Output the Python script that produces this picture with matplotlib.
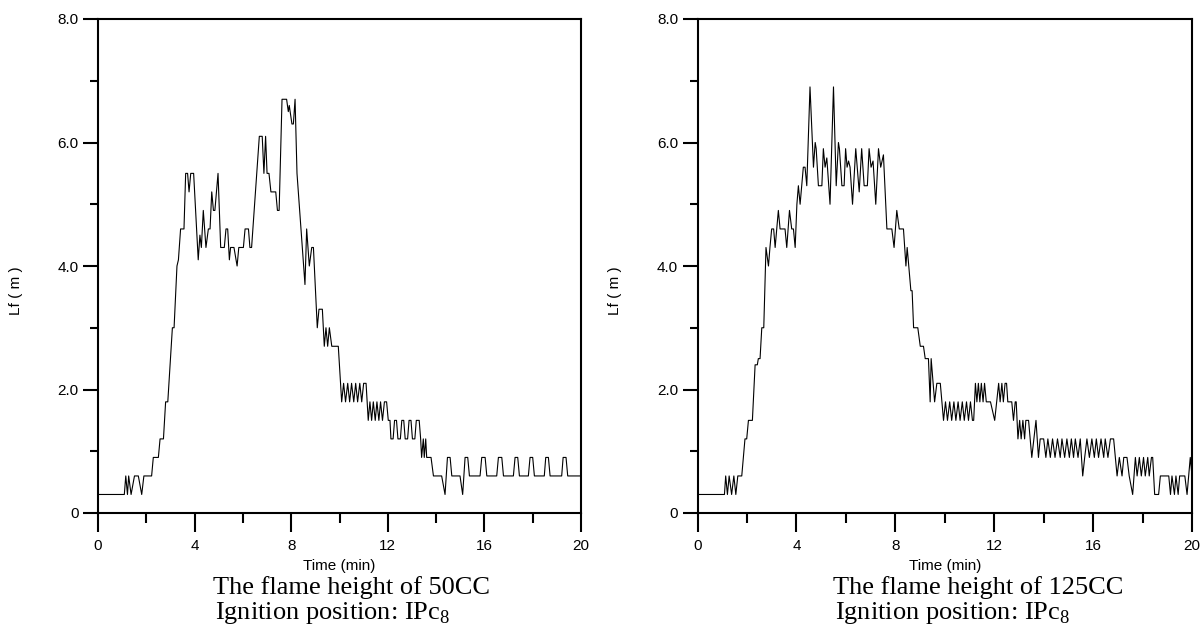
import numpy as np
import matplotlib
matplotlib.use("Agg")
import matplotlib.pyplot as plt
from matplotlib.ticker import MultipleLocator, FixedLocator

plt.rcParams['font.family'] = ['Liberation Sans', 'DejaVu Sans']
plt.rcParams['mathtext.fontset'] = 'custom'
plt.rcParams['mathtext.rm'] = 'Liberation Serif'

# %% data: (time in min, flame height in m) vertices
t_50 = [0, 1.09, 1.15, 1.22, 1.27, 1.37, 1.51, 1.67, 1.81, 1.90, 2.22, 2.29, 2.50, 2.57, 2.71,
        2.80, 2.89, 3.08, 3.15, 3.27, 3.33, 3.42, 3.56, 3.63, 3.71, 3.77, 3.84, 3.96, 4.15, 4.22,
        4.28, 4.36, 4.47, 4.57, 4.64, 4.71, 4.78, 4.84, 4.97, 5.08, 5.23, 5.30, 5.37, 5.44, 5.49,
        5.63, 5.76, 5.83, 6.02, 6.09, 6.23, 6.29, 6.36, 6.68, 6.80, 6.87, 6.94, 7.00, 7.08, 7.16,
        7.36, 7.43, 7.50, 7.62, 7.81, 7.88, 7.92, 8.03, 8.09, 8.16, 8.24, 8.57, 8.64, 8.75, 8.85,
        8.92, 9.08, 9.15, 9.29, 9.37, 9.44, 9.51, 9.58, 9.68, 9.95, 10.09, 10.17, 10.25, 10.34,
        10.42, 10.50, 10.59, 10.67, 10.75, 10.84, 10.92, 11.00, 11.10, 11.19, 11.26, 11.33, 11.40,
        11.48, 11.55, 11.63, 11.70, 11.78, 11.86, 11.95, 12.02, 12.09, 12.13, 12.22, 12.28, 12.36,
        12.42, 12.52, 12.58, 12.66, 12.72, 12.82, 12.88, 12.96, 13.02, 13.12, 13.18, 13.30, 13.36,
        13.40, 13.47, 13.51, 13.57, 13.61, 13.79, 13.89, 14.23, 14.37, 14.47, 14.58, 14.65, 14.99,
        15.10, 15.20, 15.31, 15.38, 15.82, 15.89, 16.03, 16.10, 16.51, 16.58, 16.72, 16.79, 17.20,
        17.27, 17.38, 17.45, 17.82, 17.89, 18.00, 18.07, 18.48, 18.54, 18.65, 18.72, 19.20, 19.26,
        19.38, 19.45, 20.0]
lf_50 = [0.3, 0.3, 0.6, 0.3, 0.6, 0.3, 0.6, 0.6, 0.3, 0.6, 0.6, 0.9, 0.9, 1.2, 1.2,
         1.8, 1.8, 3.0, 3.0, 4.0, 4.1, 4.6, 4.6, 5.5, 5.5, 5.2, 5.5, 5.5, 4.1, 4.5,
         4.3, 4.9, 4.3, 4.6, 4.6, 5.2, 4.9, 4.9, 5.5, 4.3, 4.3, 4.6, 4.6, 4.1, 4.3,
         4.3, 4.0, 4.3, 4.3, 4.6, 4.6, 4.3, 4.3, 6.1, 6.1, 5.5, 6.1, 5.5, 5.5, 5.2,
         5.2, 4.9, 4.9, 6.7, 6.7, 6.5, 6.6, 6.3, 6.3, 6.7, 5.5, 3.7, 4.6, 4.0, 4.3,
         4.3, 3.0, 3.3, 3.3, 2.7, 3.0, 2.7, 3.0, 2.7, 2.7, 1.8, 2.1, 1.8, 2.1,
         1.8, 2.1, 1.8, 2.1, 1.8, 2.1, 1.8, 2.1, 2.1, 1.5, 1.8, 1.5, 1.8,
         1.5, 1.8, 1.5, 1.8, 1.5, 1.8, 1.8, 1.5, 1.5, 1.2, 1.2, 1.5, 1.5,
         1.2, 1.2, 1.5, 1.5, 1.2, 1.2, 1.5, 1.5, 1.2, 1.2, 1.5, 1.5, 1.2,
         0.9, 1.2, 0.9, 1.2, 0.9, 0.9, 0.6, 0.6, 0.3, 0.9, 0.9, 0.6, 0.6,
         0.3, 0.9, 0.9, 0.6, 0.6, 0.9, 0.9, 0.6, 0.6, 0.9, 0.9, 0.6, 0.6,
         0.9, 0.9, 0.6, 0.6, 0.9, 0.9, 0.6, 0.6, 0.9, 0.9, 0.6, 0.6, 0.9,
         0.9, 0.6, 0.6]

t_125 = [0, 1.09, 1.14, 1.21, 1.28, 1.38, 1.47, 1.55, 1.63, 1.79, 1.92, 1.99, 2.06, 2.22, 2.33,
         2.42, 2.46, 2.53, 2.60, 2.68, 2.77, 2.87, 2.93, 3.00, 3.08, 3.14, 3.27, 3.34, 3.54, 3.61,
         3.72, 3.81, 3.88, 3.95, 4.02, 4.08, 4.15, 4.28, 4.35, 4.42, 4.55, 4.69, 4.76, 4.80, 4.89,
         5.03, 5.09, 5.16, 5.23, 5.36, 5.50, 5.61, 5.70, 5.74, 5.84, 5.93, 5.99, 6.05, 6.11, 6.17,
         6.27, 6.40, 6.54, 6.64, 6.74, 6.87, 6.94, 7.02, 7.10, 7.21, 7.32, 7.41, 7.52, 7.66, 7.86,
         7.95, 8.06, 8.16, 8.33, 8.43, 8.48, 8.63, 8.68, 8.74, 8.91, 9.01, 9.14, 9.21, 9.34, 9.41,
         9.45, 9.59, 9.68, 9.82, 9.95, 10.03, 10.11, 10.20, 10.28, 10.37, 10.45, 10.54, 10.62,
         10.71, 10.79, 10.88, 10.96, 11.04, 11.12, 11.17, 11.24, 11.30, 11.36, 11.42, 11.48, 11.55,
         11.61, 11.68, 11.85, 12.02, 12.10, 12.18, 12.24, 12.31, 12.37, 12.44, 12.50, 12.55, 12.71,
         12.78, 12.85, 12.89, 12.96, 13.03, 13.09, 13.16, 13.23, 13.28, 13.39, 13.52, 13.69, 13.79,
         13.86, 14.00, 14.09, 14.17, 14.27, 14.36, 14.46, 14.56, 14.67, 14.74, 14.85, 14.94, 15.04,
         15.12, 15.21, 15.28, 15.39, 15.48, 15.58, 15.66, 15.75, 15.85, 15.95, 16.05, 16.13, 16.22,
         16.32, 16.43, 16.49, 16.60, 16.70, 16.83, 16.97, 17.06, 17.17, 17.24, 17.37, 17.46, 17.60,
         17.71, 17.78, 17.87, 17.95, 18.04, 18.11, 18.21, 18.27, 18.36, 18.41, 18.49, 18.65, 18.72,
         19.06, 19.13, 19.19, 19.29, 19.35, 19.44, 19.50, 19.71, 19.80, 19.93, 20.0]
lf_125 = [0.3, 0.3, 0.6, 0.3, 0.6, 0.3, 0.6, 0.3, 0.6, 0.6, 1.2, 1.2, 1.5, 1.5, 2.4,
          2.4, 2.5, 2.5, 3.0, 3.0, 4.3, 4.0, 4.3, 4.6, 4.6, 4.3, 4.9, 4.6, 4.6, 4.3,
          4.9, 4.6, 4.6, 4.3, 5.0, 5.3, 5.0, 5.6, 5.6, 5.3, 6.9, 5.6, 6.0, 5.9, 5.3,
          5.3, 5.9, 5.6, 5.75, 5.0, 6.9, 5.3, 6.0, 5.9, 5.3, 5.3, 5.9, 5.6, 5.7, 5.6,
          5.0, 5.9, 5.2, 5.9, 5.3, 5.3, 5.9, 5.6, 5.7, 5.0, 5.9, 5.6, 5.8, 4.6, 4.6,
          4.3, 4.9, 4.6, 4.6, 4.0, 4.3, 3.6, 3.6, 3.0, 3.0, 2.7, 2.7, 2.5, 2.5, 1.8,
          2.5, 1.8, 2.1, 2.1, 1.5, 1.8, 1.5, 1.8, 1.5, 1.8, 1.5, 1.8, 1.5,
          1.8, 1.5, 1.8, 1.5, 1.8, 1.5, 1.5, 2.1, 1.8, 2.1, 1.8, 2.1, 1.8,
          2.1, 1.8, 1.8, 1.5, 1.8, 2.1, 1.8, 2.1, 1.8, 2.1, 2.1, 1.8, 1.8,
          1.5, 1.8, 1.8, 1.2, 1.5, 1.2, 1.5, 1.2, 1.5, 1.5, 0.9, 1.5, 0.9,
          1.2, 1.2, 0.9, 1.2, 0.9, 1.2, 0.9, 1.2, 0.9, 1.2, 0.9, 1.2, 0.9,
          1.2, 0.9, 1.2, 0.9, 1.2, 0.6, 0.9, 1.2, 0.9, 1.2, 0.9, 1.2, 0.9,
          1.2, 0.9, 1.2, 0.9, 1.2, 1.2, 0.6, 0.9, 0.6, 0.9, 0.9, 0.6, 0.3,
          0.9, 0.6, 0.9, 0.6, 0.9, 0.6, 0.9, 0.6, 0.9, 0.9, 0.3, 0.3, 0.6,
          0.6, 0.3, 0.6, 0.3, 0.6, 0.3, 0.6, 0.6, 0.3, 0.9, 0.6]

x_ticks = [0, 4, 8, 12, 16, 20]
y_ticks = [0, 2, 4, 6, 8]
y_ticklabels = ["0", "2.0", "4.0", "6.0", "8.0"]
captions = ["The flame height of 50CC", "The flame height of 125CC"]
ignition = "Ignition position: IPc$_\\mathrm{8}$"

# %% figure
fig = plt.figure(figsize=(12.03, 6.34), dpi=100)
axes_rects = [[98 / 1203, 121 / 634, 483 / 1203, 494 / 634],
              [697.5 / 1203, 121 / 634, 494.5 / 1203, 494 / 634]]
caption_x = [213 / 1203, 833 / 1203]
series = [(t_50, lf_50), (t_125, lf_125)]

for i in range(2):
    ax = fig.add_axes(axes_rects[i])
    t, lf = series[i]
    ax.plot(t, lf, "-k", lw=0.8)
    ax.set_xlim(0, 20)
    ax.set_ylim(0, 8)
    ax.xaxis.set_major_locator(FixedLocator(x_ticks))
    ax.xaxis.set_minor_locator(MultipleLocator(2))
    ax.set_yticks(y_ticks)
    ax.set_yticklabels(y_ticklabels)
    ax.yaxis.set_minor_locator(MultipleLocator(1))
    ax.tick_params(axis="x", which="major", direction="out", length=13.5, width=1.5,
                   labelsize=11, pad=5)
    ax.tick_params(axis="x", which="minor", direction="out", length=7, width=1.5)
    ax.tick_params(axis="y", which="major", direction="out", length=11, width=1.5,
                   labelsize=11, pad=3)
    ax.tick_params(axis="y", which="minor", direction="out", length=6, width=1.5)
    for s in ax.spines.values():
        s.set_linewidth(1.5)
    ax.set_xlabel("Time (min)", fontsize=11)
    ax.xaxis.set_label_coords(0.5, -(566 - 513) / 494)
    ax.xaxis.label.set_va("center")
    ax.set_ylabel("Lf ( m )", fontsize=11)
    ax.yaxis.set_label_coords(-(82 if i == 0 else 81) / 483, 0.45)
    ax.yaxis.label.set_va("center")

    fig.text(caption_x[i], 1 - 588 / 634, captions[i], family="Liberation Serif",
             fontsize=19, ha="left", va="center")
    fig.text(caption_x[i] + 2 / 1203, 1 - 613 / 634, ignition, family="Liberation Serif",
             fontsize=19, ha="left", va="center")

fig.savefig("out.png", dpi=100)
